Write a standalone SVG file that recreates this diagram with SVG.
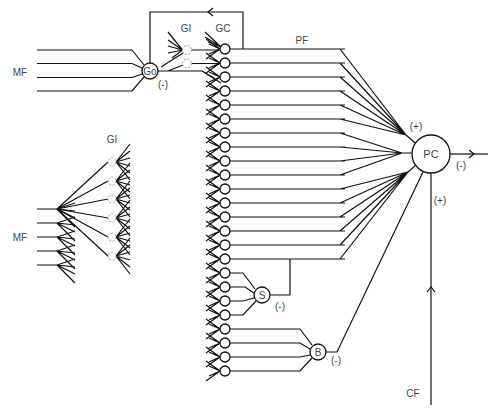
<svg xmlns="http://www.w3.org/2000/svg" xmlns:xlink="http://www.w3.org/1999/xlink" width="500" height="415" viewBox="0 0 500 415">
<style>
.ln{fill:none;stroke:#111;stroke-width:1.2}
.nd{fill:#fff;stroke:#111;stroke-width:1.3}
.gi{fill:#fff;stroke:#999;stroke-width:1;stroke-dasharray:2 1.5}
.lb{font-family:"Liberation Sans",Arial,sans-serif;font-size:10px;fill:#444;text-anchor:middle}
</style>
<defs>
<marker id="chev" markerWidth="10" markerHeight="10" refX="6" refY="5" orient="auto" markerUnits="userSpaceOnUse"><path d="M1,1 L6,5 L1,9" fill="none" stroke="#111" stroke-width="1.2"/></marker>
<path id="gd" class="ln" d="M220,0 L206,-10 M220,0 L206,10 M220,0 L209,-5 M220,0 L209,5"/>
<path id="mff" class="ln" d="M57,0 L75,-6 M57,0 L75,2 M57,0 L75,9 M57,0 L75,18"/>
<path id="gif" class="ln" d="M116,0 L130,-18 M116,0 L130,-11 M116,0 L130,-4 M116,0 L130,4 M116,0 L130,11 M116,0 L130,18"/>
</defs>
<rect width="500" height="415" fill="#fff"/>
<g id="connectors">
<path class="ln" d="M37,50 H132 L144,65 M37,63.5 H132 L142,68 M37,77.5 H132 L142,74 M37,91 H132 L144,77"/>
<path class="ln" d="M243,49 V12 H208" marker-end="url(#chev)"/>
<path class="ln" d="M208,12 H150 V63"/>
<path class="ln" d="M158,71 H202 L221,83 M202,71 L214,78 M161,67 L183,53 M168,71 L183,65"/>
<path class="ln" d="M182.5,50 L168,32 M182.5,50 L168,40 M182.5,50 L168,46 M182.5,50 L168,53 M182.5,50 L172,58"/>
<path class="ln" d="M191.5,50 H220 M191.5,63.5 H220"/>
<path class="ln" d="M221,47 L205,32 M221,47 L205,37 M221,47 L208,42"/>
<use href="#gd" y="49"/><use href="#gd" y="63"/><use href="#gd" y="77"/><use href="#gd" y="91"/><use href="#gd" y="105"/><use href="#gd" y="119"/>
<use href="#gd" y="133"/><use href="#gd" y="147"/><use href="#gd" y="161"/><use href="#gd" y="175"/><use href="#gd" y="189"/><use href="#gd" y="203"/>
<use href="#gd" y="217"/><use href="#gd" y="231"/><use href="#gd" y="245"/><use href="#gd" y="259"/><use href="#gd" y="273"/><use href="#gd" y="287"/>
<use href="#gd" y="301"/><use href="#gd" y="315"/><use href="#gd" y="329"/><use href="#gd" y="343"/><use href="#gd" y="357"/><use href="#gd" y="371"/>
<path class="ln" d="M230,49 H345 M340,49 L406,135 M230,63 H345 M340,63 L406,135 M230,77 H345 M340,77 L406,135 M230,91 H345 M340,91 L406,135 M230,105 H345 M340,105 L406,135 M230,119 H345 M340,119 L406,135"/>
<path class="ln" d="M230,133 H345 M340,133 L402,153 M230,147 H345 M340,147 L402,153 M230,161 H345 M340,161 L402,153 M230,175 H345 M340,175 L402,153"/>
<path class="ln" d="M230,189 H345 M340,189 L408,172 M230,203 H345 M340,203 L408,172 M230,217 H345 M340,217 L408,172 M230,231 H345 M340,231 L408,172 M230,245 H345 M340,245 L408,172 M230,259 H345 M340,259 L408,172"/>
<path class="ln" d="M406,135 L415,143 M402,153 H412 M408,172 L416,165"/>
<path class="ln" d="M230,273 H243 L255,289 M230,287 H245 L254,293 M230,301 H243 L254,298 M230,315 H243 L256,301"/>
<path class="ln" d="M270,295 H290 V259"/>
<path class="ln" d="M230,329 H300 L312,345 M230,343 H300 L310,349 M230,357 H300 L310,355 M230,371 H300 L312,358"/>
<path class="ln" d="M326,352 H337 L423,172"/>
<path class="ln" d="M450,154 H474" marker-end="url(#chev)"/>
<path class="ln" d="M474,154 H488"/>
<path class="ln" d="M431,405 V287" marker-end="url(#chev)"/>
<path class="ln" d="M431,287 V173"/>
<path class="ln" d="M37,209 H57 M37,223 H57 M37,237 H57 M37,251 H57 M37,265 H57"/>
<path class="ln" d="M57,209 L108,162 M57,209 L108,181 M57,209 L108,199 M57,209 L108,218 M57,209 L108,237 M57,209 L108,256"/>
<use href="#mff" y="209"/><use href="#mff" y="223"/><use href="#mff" y="237"/><use href="#mff" y="251"/><use href="#mff" y="265"/>
<use href="#gif" y="162"/><use href="#gif" y="181"/><use href="#gif" y="199"/><use href="#gif" y="218"/><use href="#gif" y="237"/><use href="#gif" y="256"/>
</g>
<g id="go"><circle class="nd" cx="150" cy="71" r="8"/><text class="lb" x="150" y="75">Go</text></g>
<g id="gi-top1"><circle class="gi" cx="187" cy="50" r="4.5"/></g>
<g id="gi-top2"><circle class="gi" cx="187" cy="63.5" r="4.5"/></g>
<g id="gi1"><circle class="gi" cx="112" cy="162" r="4"/></g>
<g id="gi2"><circle class="gi" cx="112" cy="181" r="4"/></g>
<g id="gi3"><circle class="gi" cx="112" cy="199" r="4"/></g>
<g id="gi4"><circle class="gi" cx="112" cy="218" r="4"/></g>
<g id="gi5"><circle class="gi" cx="112" cy="237" r="4"/></g>
<g id="gi6"><circle class="gi" cx="112" cy="256" r="4"/></g>
<g id="gc01"><circle class="nd" cx="225" cy="49" r="5"/></g>
<g id="gc02"><circle class="nd" cx="225" cy="63" r="5"/></g>
<g id="gc03"><circle class="nd" cx="225" cy="77" r="5"/></g>
<g id="gc04"><circle class="nd" cx="225" cy="91" r="5"/></g>
<g id="gc05"><circle class="nd" cx="225" cy="105" r="5"/></g>
<g id="gc06"><circle class="nd" cx="225" cy="119" r="5"/></g>
<g id="gc07"><circle class="nd" cx="225" cy="133" r="5"/></g>
<g id="gc08"><circle class="nd" cx="225" cy="147" r="5"/></g>
<g id="gc09"><circle class="nd" cx="225" cy="161" r="5"/></g>
<g id="gc10"><circle class="nd" cx="225" cy="175" r="5"/></g>
<g id="gc11"><circle class="nd" cx="225" cy="189" r="5"/></g>
<g id="gc12"><circle class="nd" cx="225" cy="203" r="5"/></g>
<g id="gc13"><circle class="nd" cx="225" cy="217" r="5"/></g>
<g id="gc14"><circle class="nd" cx="225" cy="231" r="5"/></g>
<g id="gc15"><circle class="nd" cx="225" cy="245" r="5"/></g>
<g id="gc16"><circle class="nd" cx="225" cy="259" r="5"/></g>
<g id="gc17"><circle class="nd" cx="225" cy="273" r="5"/></g>
<g id="gc18"><circle class="nd" cx="225" cy="287" r="5"/></g>
<g id="gc19"><circle class="nd" cx="225" cy="301" r="5"/></g>
<g id="gc20"><circle class="nd" cx="225" cy="315" r="5"/></g>
<g id="gc21"><circle class="nd" cx="225" cy="329" r="5"/></g>
<g id="gc22"><circle class="nd" cx="225" cy="343" r="5"/></g>
<g id="gc23"><circle class="nd" cx="225" cy="357" r="5"/></g>
<g id="gc24"><circle class="nd" cx="225" cy="371" r="5"/></g>
<g id="s"><circle class="nd" cx="262" cy="295" r="8"/><text class="lb" x="262" y="299">S</text></g>
<g id="b"><circle class="nd" cx="318" cy="352" r="8"/><text class="lb" x="318" y="356">B</text></g>
<g id="pc"><circle class="nd" cx="431" cy="154" r="19"/><text class="lb" x="431" y="158" style="font-size:11px">PC</text></g>
<g id="labels">
<text class="lb" x="20" y="76">MF</text>
<text class="lb" x="163" y="88">(-)</text>
<text class="lb" x="186" y="32">GI</text>
<text class="lb" x="223" y="32">GC</text>
<text class="lb" x="302" y="44">PF</text>
<text class="lb" x="112" y="143">GI</text>
<text class="lb" x="20" y="241">MF</text>
<text class="lb" x="280" y="310">(-)</text>
<text class="lb" x="336" y="364">(-)</text>
<text class="lb" x="416" y="130">(+)</text>
<text class="lb" x="461" y="169">(-)</text>
<text class="lb" x="440" y="204">(+)</text>
<text class="lb" x="413" y="397">CF</text>
</g>
</svg>
